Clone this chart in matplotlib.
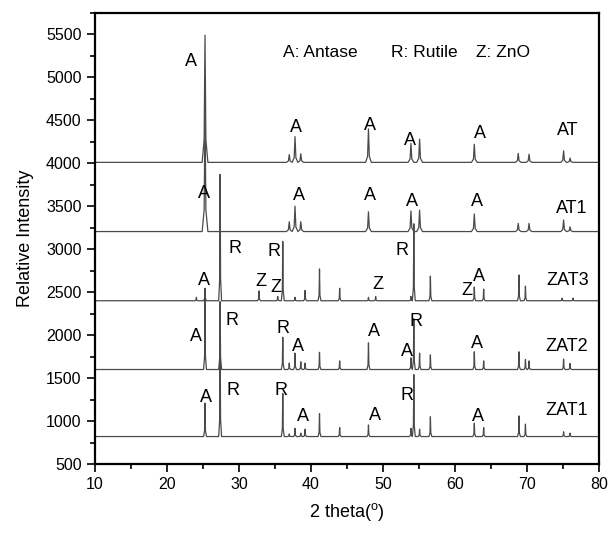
import matplotlib.pyplot as plt
from matplotlib.ticker import MultipleLocator

plt.rcParams['font.family'] = ['Liberation Sans', 'DejaVu Sans']
plt.rcParams['mathtext.fontset'] = 'custom'
plt.rcParams['mathtext.rm'] = 'Liberation Sans'

# samples, bottom to top
samples = ['ZAT1', 'ZAT2', 'ZAT3', 'AT1', 'AT']
baselines = [820, 1600, 2400, 3205, 4010]

# peak positions (2 theta) and apex intensities
pos_zat1 = [25.3, 27.4, 36.1, 37.0, 37.8, 38.6, 39.2, 41.2, 44.0, 48.0, 53.9, 54.3, 55.1, 56.6, 62.7, 64.0, 68.9, 69.8, 75.1, 76.0]
int_zat1 = [1210, 1950, 1320, 850, 915, 860, 905, 1085, 925, 955, 915, 1540, 905, 1050, 975, 925, 1060, 965, 875, 860]

pos_zat2 = [25.3, 27.4, 36.1, 37.0, 37.8, 38.6, 39.2, 41.2, 44.0, 48.0, 53.9, 54.3, 55.1, 56.6, 62.7, 64.0, 68.9, 69.8, 70.3, 75.1, 76.0]
int_zat2 = [2480, 2390, 1975, 1675, 1790, 1690, 1675, 1800, 1700, 1910, 1735, 2190, 1790, 1770, 1806, 1700, 1806, 1717, 1700, 1720, 1670]

pos_zat3 = [24.1, 25.3, 27.4, 32.8, 35.4, 36.1, 37.8, 39.2, 41.2, 44.0, 48.0, 49.0, 53.9, 54.3, 56.6, 62.7, 64.0, 68.9, 69.8, 74.9, 76.4]
int_zat3 = [2440, 2545, 3870, 2515, 2450, 3090, 2440, 2520, 2770, 2545, 2440, 2450, 2450, 3295, 2686, 2560, 2535, 2700, 2570, 2430, 2430]

pos_at1 = [25.3, 37.0, 37.8, 38.6, 48.0, 53.9, 55.1, 62.7, 68.8, 70.3, 75.1, 76.0]
int_at1 = [4610, 3320, 3500, 3320, 3435, 3445, 3455, 3410, 3300, 3300, 3340, 3260]

pos_at = [25.3, 37.0, 37.8, 38.6, 48.0, 53.9, 55.1, 62.7, 68.8, 70.3, 75.1, 76.0]
int_at = [5490, 4100, 4310, 4110, 4400, 4230, 4280, 4220, 4115, 4105, 4145, 4060]

positions = [pos_zat1, pos_zat2, pos_zat3, pos_at1, pos_at]
intensities = [int_zat1, int_zat2, int_zat3, int_at1, int_at]
half_width = [0.2, 0.2, 0.2, 0.4, 0.4]

# phase marks: (x, y, text)
marks = [
    (23.3, 5180, 'A'), (38.0, 4420, 'A'), (48.2, 4440, 'A'), (53.8, 4270, 'A'), (63.5, 4345, 'A'),
    (25.2, 3648, 'A'), (38.3, 3628, 'A'), (48.2, 3628, 'A'), (54.1, 3550, 'A'), (63.0, 3550, 'A'),
    (25.2, 2640, 'A'), (29.4, 3008, 'R'), (34.9, 2969, 'R'), (33.0, 2620, 'Z'), (35.2, 2554, 'Z'),
    (49.3, 2593, 'Z'), (52.7, 2988, 'R'), (61.7, 2523, 'Z'), (63.4, 2678, 'A'),
    (24.0, 1980, 'A'), (29.1, 2174, 'R'), (36.2, 2078, 'R'), (38.2, 1872, 'A'), (48.7, 2038, 'A'),
    (53.4, 1806, 'A'), (54.6, 2155, 'R'), (63.0, 1903, 'A'),
    (25.5, 1275, 'A'), (29.2, 1360, 'R'), (35.9, 1360, 'R'), (38.9, 1050, 'A'), (48.9, 1070, 'A'),
    (53.4, 1302, 'R'), (63.2, 1050, 'A'),
]
name_pos = [(75.5, 1128), (75.5, 1872), (75.6, 2640), (76.2, 3473), (75.7, 4384)]

fig = plt.figure(figsize=(6.08, 5.34), dpi=100)
ax = fig.add_axes([0.156, 0.131, 0.829, 0.845])

for base, pos, inten, hw in zip(baselines, positions, intensities, half_width):
    xs = [10]
    ys = [base]
    for p, h in zip(pos, inten):
        foot = base + 0.18 * (h - base)
        xs += [p - hw, p - 0.3 * hw, p, p + 0.3 * hw, p + hw]
        ys += [base, foot, h, foot, base]
    xs.append(80)
    ys.append(base)
    ax.plot(xs, ys, color='#4a4a4a', lw=0.9)

for x, y, t in marks:
    ax.text(x, y, t, fontsize=13, ha='center', va='center')
for (x, y), name in zip(name_pos, samples):
    ax.text(x, y, name, fontsize=13, ha='center', va='center')

ax.text(36.1, 5290, 'A: Antase', fontsize=12.5, va='center')
ax.text(51.1, 5290, 'R: Rutile', fontsize=12.5, va='center')
ax.text(63.0, 5290, 'Z: ZnO', fontsize=12.5, va='center')

ax.set_xlim(10, 80)
ax.set_ylim(500, 5750)
ax.xaxis.set_major_locator(MultipleLocator(10))
ax.xaxis.set_minor_locator(MultipleLocator(5))
ax.yaxis.set_major_locator(MultipleLocator(500))
ax.yaxis.set_minor_locator(MultipleLocator(250))
ax.tick_params(which='both', direction='out', top=False, right=False, labelsize=11.5, width=1.2)
ax.tick_params(which='major', length=6)
ax.tick_params(which='minor', length=3.5)
for s in ax.spines.values():
    s.set_linewidth(1.6)

ax.set_xlabel('2 theta($^\\mathrm{o}$)', fontsize=13, labelpad=6)
ax.set_ylabel('Relative Intensity', fontsize=13, labelpad=9)

fig.savefig('out.png', dpi=100)
